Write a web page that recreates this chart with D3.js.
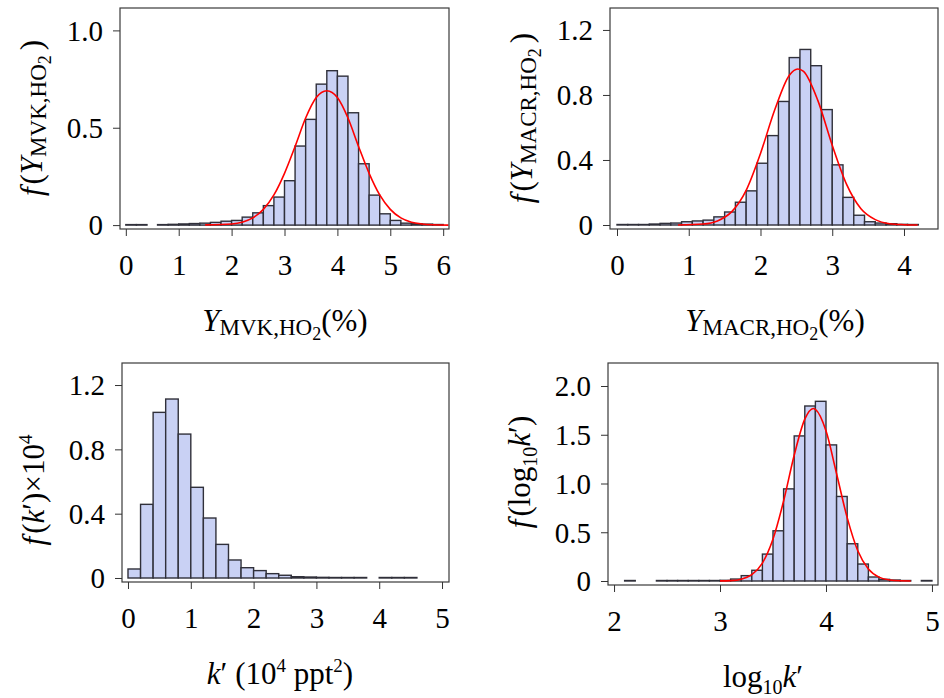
<!DOCTYPE html>
<html>
<head>
<meta charset="utf-8">
<script src="https://cdn.jsdelivr.net/npm/d3@7"></script>
<style>
body { margin: 0; background: #fff; }
svg text { font-family: "Liberation Serif", "Times New Roman", serif; fill: #000; }
</style>
</head>
<body>
<div id="chart"></div>
<script>
// ---- data ----
// histogram heights, one per bin (null = empty bin)
var mvkStart = 0, mvkStep = 0.2;
var mvkBins = [0.002, 0.002, null, 0.002, 0.004, 0.006, 0.008, 0.01, 0.014, 0.02,
    0.024, 0.041, 0.063, 0.10, 0.144, 0.228, 0.406, 0.543, 0.724, 0.793,
    0.765, 0.577, 0.315, 0.154, 0.058, 0.024, 0.01, 0.007, 0.005, 0.003];
var mvkFit = [[1.5, 0.001], [2.0, 0.006], [2.2, 0.015], [2.4, 0.037], [2.6, 0.081], [2.8, 0.155],
    [3.0, 0.266], [3.2, 0.404], [3.4, 0.55], [3.6, 0.655], [3.8, 0.69], [4.0, 0.655],
    [4.2, 0.55], [4.4, 0.404], [4.6, 0.266], [4.8, 0.155], [5.0, 0.081], [5.2, 0.037],
    [5.4, 0.015], [5.6, 0.006], [5.8, 0.002], [6.1, 0.0]];
var mvkXTicks = [0, 1, 2, 3, 4, 5, 6];
var mvkYTicks = [0, 0.5, 1.0];
var mvkYLabels = ["0", "0.5", "1.0"];

var macrStart = 0, macrStep = 0.15;
var macrBins = [0.003, 0.002, 0.003, 0.006, 0.01, 0.012, 0.02, 0.025, 0.03, 0.05,
    0.08, 0.14, 0.21, 0.38, 0.55, 0.76, 1.03, 1.08, 0.98, 0.71,
    0.37, 0.17, 0.06, 0.02, 0.012, 0.008, 0.004, 0.002];
var macrFit = [[0.85, 0.0], [1.2, 0.006], [1.4, 0.025], [1.6, 0.082], [1.8, 0.213], [2.0, 0.44],
    [2.2, 0.71], [2.4, 0.92], [2.52, 0.96], [2.6, 0.945], [2.8, 0.765], [3.0, 0.49],
    [3.2, 0.25], [3.4, 0.10], [3.6, 0.033], [3.8, 0.008], [4.0, 0.002], [4.19, 0.0]];
var macrXTicks = [0, 1, 2, 3, 4];
var macrYTicks = [0, 0.4, 0.8, 1.2];
var macrYLabels = ["0", "0.4", "0.8", "1.2"];

var kStart = 0, kStep = 0.2;
var kBins = [0.056, 0.458, 1.03, 1.113, 0.895, 0.564, 0.373, 0.209, 0.112, 0.064,
    0.046, 0.027, 0.017, 0.008, 0.006, 0.004, 0.003, 0.003, 0.001, null,
    0.002, 0.001, 0.001];
var kXTicks = [0, 1, 2, 3, 4, 5];
var kYTicks = [0, 0.4, 0.8, 1.2];
var kYLabels = ["0", "0.4", "0.8", "1.2"];

var logStart = 2.0, logStep = 0.1;
var logBins = [null, 0.002, null, null, 0.002, 0.002, 0.002, 0.002, 0.003, 0.004,
    0.007, 0.02, 0.055, 0.11, 0.276, 0.515, 0.945, 1.488, 1.795, 1.843,
    1.396, 0.867, 0.382, 0.174, 0.041, 0.017, 0.01, 0.005, null, 0.002];
var logFit = [[3.0, 0.001], [3.1, 0.004], [3.2, 0.019], [3.3, 0.065], [3.4, 0.183], [3.5, 0.43],
    [3.6, 0.82], [3.7, 1.29], [3.8, 1.66], [3.88, 1.77], [3.9, 1.76], [4.0, 1.54],
    [4.1, 1.10], [4.2, 0.65], [4.3, 0.31], [4.4, 0.124], [4.5, 0.04], [4.6, 0.011],
    [4.7, 0.002], [4.8, 0.0]];
var logXTicks = [2, 3, 4, 5];
var logYTicks = [0, 0.5, 1.0, 1.5, 2.0];
var logYLabels = ["0", "0.5", "1.0", "1.5", "2.0"];

var svg = d3.select("#chart").append("svg")
    .attr("width", 944)
    .attr("height", 698);

function addText(parent, parts) {
    parts.forEach(function (p) {
        var t = parent.append("tspan").text(p.t).attr("font-size", p.fs || 31);
        if (p.it) t.attr("font-style", "italic");
        if (p.dy) t.attr("dy", p.dy);
        if (p.dx) t.attr("dx", p.dx);
    });
}

function panel(o) {
    var x = d3.scaleLinear().domain(o.xDomain).range([o.left, o.right]);
    var y = d3.scaleLinear().domain(o.yDomain).range([o.bottom, o.top]);
    var g = svg.append("g");

    var bins = o.bins.map(function (v, i) {
        return { x0: o.start + i * o.step, x1: o.start + (i + 1) * o.step, v: v };
    }).filter(function (d) { return d.v !== null; });

    g.selectAll("rect.bar")
        .data(bins)
        .enter().append("rect")
        .attr("class", "bar")
        .attr("x", function (d) { return x(d.x0); })
        .attr("width", function (d) { return x(d.x1) - x(d.x0); })
        .attr("y", function (d) { return y(0) - Math.max(0.5, y(0) - y(d.v)); })
        .attr("height", function (d) { return Math.max(0.5, y(0) - y(d.v)); })
        .style("fill", "#c9d1f4")
        .style("stroke", "#30303a")
        .style("stroke-width", 1.4);

    if (o.fit) {
        var line = d3.line()
            .x(function (d) { return x(d[0]); })
            .y(function (d) { return y(d[1]); })
            .curve(d3.curveMonotoneX);
        g.append("path")
            .datum(o.fit)
            .attr("d", line)
            .style("fill", "none")
            .style("stroke", "#ff0000")
            .style("stroke-width", 1.6);
    }

    // frame
    g.append("rect")
        .attr("x", o.left).attr("y", o.top)
        .attr("width", o.right - o.left).attr("height", o.bottom - o.top)
        .style("fill", "none").style("stroke", "#3a3a3a").style("stroke-width", 1.2);

    var xa = g.append("g")
        .attr("transform", "translate(0," + o.bottom + ")")
        .call(d3.axisBottom(x).tickValues(o.xTicks).tickSize(7).tickSizeOuter(0).tickFormat(d3.format("d")));
    xa.select(".domain").remove();
    xa.attr("font-family", null).attr("font-size", 29).attr("color", "#333");
    xa.selectAll("text").attr("y", 46).attr("dy", 0).style("fill", "#000");

    var ya = g.append("g")
        .attr("transform", "translate(" + o.left + ",0)")
        .call(d3.axisLeft(y).tickValues(o.yTicks).tickSize(7).tickPadding(10).tickSizeOuter(0)
            .tickFormat(function (d, i) { return o.yLabels[i]; }));
    ya.select(".domain").remove();
    ya.attr("font-family", null).attr("font-size", 29).attr("color", "#333");
    ya.selectAll("text").attr("dy", "0.34em").style("fill", "#000");

    var xt = g.append("text")
        .attr("x", o.xTitleX).attr("y", o.bottom + 102)
        .attr("text-anchor", "middle");
    addText(xt, o.xTitle);

    var yt = g.append("text")
        .attr("transform", "translate(" + (o.left - 78) + "," + o.yTitleY + ") rotate(-90)")
        .attr("text-anchor", "middle");
    addText(yt, o.yTitle);
}

panel({
    left: 120, right: 449, top: 8, bottom: 229,
    xDomain: [-0.11, 6.11], yDomain: [-0.02, 1.115],
    bins: mvkBins, start: mvkStart, step: mvkStep, fit: mvkFit,
    xTicks: mvkXTicks, yTicks: mvkYTicks, yLabels: mvkYLabels,
    xTitleX: 285, yTitleY: 118,
    xTitle: [{ t: "Y", it: 1 }, { t: "MVK,HO", fs: 23, dy: 4 }, { t: "2", fs: 18, dy: 5 }, { t: "(%)", dy: -9 }],
    yTitle: [{ t: "f", it: 1 }, { t: "(", dx: 3 }, { t: "Y", it: 1 }, { t: "MVK,HO", fs: 23, dy: 4 }, { t: "2", fs: 18, dy: 5 }, { t: ")", dy: -9, dx: 5 }]
});

panel({
    left: 610, right: 938, top: 8, bottom: 229,
    xDomain: [-0.0976, 4.474], yDomain: [-0.0246, 1.335],
    bins: macrBins, start: macrStart, step: macrStep, fit: macrFit,
    xTicks: macrXTicks, yTicks: macrYTicks, yLabels: macrYLabels,
    xTitleX: 775, yTitleY: 118,
    xTitle: [{ t: "Y", it: 1 }, { t: "MACR,HO", fs: 23, dy: 4 }, { t: "2", fs: 18, dy: 5 }, { t: "(%)", dy: -9 }],
    yTitle: [{ t: "f", it: 1 }, { t: "(", dx: 3 }, { t: "Y", it: 1 }, { t: "MACR,HO", fs: 23, dy: 4 }, { t: "2", fs: 18, dy: 5 }, { t: ")", dy: -9, dx: 5 }]
});

panel({
    left: 122, right: 449, top: 363, bottom: 582,
    xDomain: [-0.0955, 5.111], yDomain: [-0.0249, 1.337],
    bins: kBins, start: kStart, step: kStep, fit: null,
    xTicks: kXTicks, yTicks: kYTicks, yLabels: kYLabels,
    xTitleX: 280, yTitleY: 490,
    xTitle: [{ t: "k", it: 1 }, { t: "\u2032 (10" }, { t: "4", fs: 19, dy: -12 }, { t: " ppt", dy: 12 }, { t: "2", fs: 19, dy: -12 }, { t: ")", dy: 12 }],
    yTitle: [{ t: "f", it: 1 }, { t: "(", dx: 3 }, { t: "k", it: 1 }, { t: "\u2032)\u00d710" }, { t: "4", fs: 19, dy: -12 }]
});

panel({
    left: 608, right: 938, top: 363, bottom: 585,
    xDomain: [1.943, 5.057], yDomain: [-0.041, 2.236],
    bins: logBins, start: logStart, step: logStep, fit: logFit,
    xTicks: logXTicks, yTicks: logYTicks, yLabels: logYLabels,
    xTitleX: 763, yTitleY: 472,
    xTitle: [{ t: "log" }, { t: "10", fs: 20, dy: 7 }, { t: "k", it: 1, dy: -7 }, { t: "\u2032" }],
    yTitle: [{ t: "f", it: 1 }, { t: "(log", dx: 3 }, { t: "10", fs: 20, dy: 7 }, { t: "k", it: 1, dy: -7 }, { t: "\u2032)" }]
});
</script>
</body>
</html>
